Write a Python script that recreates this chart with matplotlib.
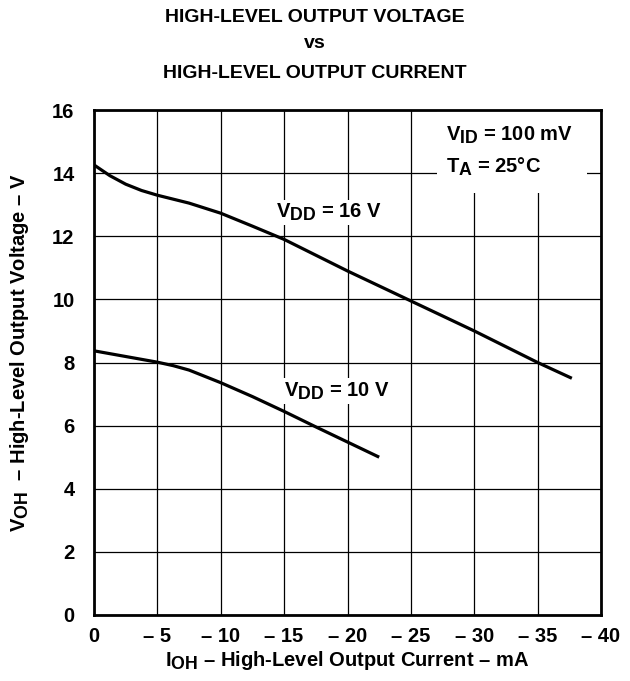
import numpy as np
import matplotlib
matplotlib.use("Agg")
import matplotlib.pyplot as plt
import matplotlib._mathtext as mathtext_impl
from matplotlib.patches import Rectangle

# ── DATA ──────────────────────────────────────────────────────────────────────

i_oh_16v = [0, -1.25, -2.5, -3.75, -5, -7.5, -10, -12.5, -15, -20, -25, -30,
            -35, -37.7]
v_oh_16v = [14.26, 13.92, 13.65, 13.45, 13.3, 13.05, 12.73, 12.32, 11.9, 10.9,
            9.95, 9.0, 8.0, 7.5]

i_oh_10v = [0, -2.5, -5, -6.25, -7.5, -10, -12.5, -15, -17.5, -20, -22.5]
v_oh_10v = [8.37, 8.19, 8.01, 7.9, 7.76, 7.36, 6.92, 6.45, 5.96, 5.48, 5.0]

x_ticks = [0, -5, -10, -15, -20, -25, -30, -35, -40]
x_tick_labels = ["0", "\u2013 5", "\u2013 10", "\u2013 15", "\u2013 20",
                 "\u2013 25", "\u2013 30", "\u2013 35", "\u2013 40"]
y_ticks = [0, 2, 4, 6, 8, 10, 12, 14, 16]

# ── STYLE ─────────────────────────────────────────────────────────────────────

# datasheet-style subscripts are nearly full size
mathtext_impl.SHRINK_FACTOR = 0.88

plt.rcParams["font.family"] = ["Liberation Sans", "DejaVu Sans"]
plt.rcParams["font.weight"] = "bold"
plt.rcParams["axes.labelweight"] = "bold"
plt.rcParams["mathtext.fontset"] = "custom"
plt.rcParams["mathtext.rm"] = "Liberation Sans:bold"
plt.rcParams["mathtext.it"] = "Liberation Sans:bold"
plt.rcParams["mathtext.bf"] = "Liberation Sans:bold"

FS = 14.5
DASH = "\u2013"

fig = plt.figure(figsize=(6.30, 6.81), dpi=100)
ax = fig.add_axes([94 / 630, 1 - 615 / 681, 507 / 630, 505 / 681])

ax.plot(i_oh_16v, v_oh_16v, color="black", lw=2.3, zorder=2,
        solid_capstyle="butt", solid_joinstyle="round")
ax.plot(i_oh_10v, v_oh_10v, color="black", lw=2.3, zorder=2,
        solid_capstyle="butt", solid_joinstyle="round")

ax.set_xlim(0, -40)
ax.set_ylim(0, 16)
ax.set_xticks(x_ticks)
ax.set_xticklabels(x_tick_labels)
ax.set_yticks(y_ticks)
ax.tick_params(length=0, labelsize=FS, pad=9)
ax.tick_params(axis="y", pad=14)

ax.set_axisbelow(True)
ax.grid(True, color="black", lw=0.9)
for sp in ax.spines.values():
    sp.set_linewidth(2.0)
    sp.set_zorder(5)

# white patch behind the conditions block
ax.add_patch(Rectangle((0.677, 0.836), 0.295, 0.164, transform=ax.transAxes,
                       facecolor="white", edgecolor="none", zorder=1))
ax.text(-27.8, 15.2, r"$V_{ID}$ = 100 mV", fontsize=FS, ha="left",
        va="center", zorder=3)
ax.text(-27.8, 14.2, r"$T_A$ = 25°C", fontsize=FS, ha="left",
        va="center", zorder=3)

box = dict(facecolor="white", edgecolor="none", pad=1.5)
ax.text(-18.5, 12.75, r"$V_{DD}$ = 16 V", fontsize=FS, ha="center",
        va="center", bbox=box, zorder=3)
ax.text(-19.2, 7.1, r"$V_{DD}$ = 10 V", fontsize=FS, ha="center",
        va="center", bbox=box, zorder=3)

ax.set_xlabel(r"$I_{OH}$ " + DASH + " High-Level Output Current " + DASH + " mA",
              fontsize=FS, labelpad=2)
ax.set_ylabel(r"$V_{OH}$  " + DASH + " High-Level Output Voltage " + DASH + " V",
              fontsize=FS)
ax.yaxis.set_label_coords(-0.125, 0.52)

fig.text(0.5, 1 - 18 / 681, "HIGH-LEVEL OUTPUT VOLTAGE", fontsize=14,
         ha="center", va="center")
fig.text(0.5, 1 - 43 / 681, "vs", fontsize=14, ha="center", va="center")
fig.text(0.5, 1 - 73 / 681, "HIGH-LEVEL OUTPUT CURRENT", fontsize=14,
         ha="center", va="center")

fig.savefig("out.png", dpi=100)
